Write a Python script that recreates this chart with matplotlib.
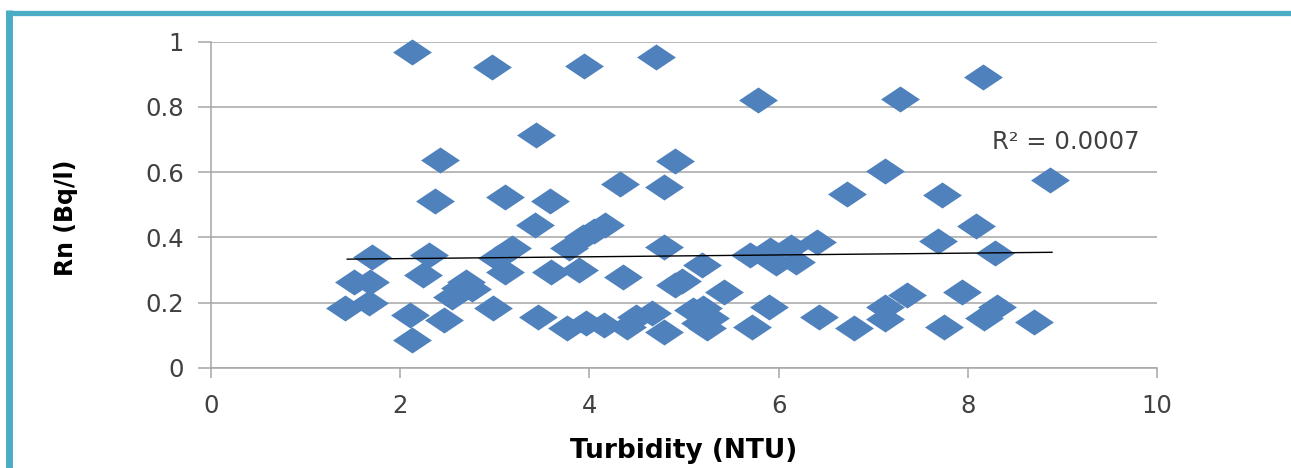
import matplotlib
matplotlib.use("Agg")
import matplotlib.pyplot as plt
from matplotlib.lines import Line2D
from matplotlib.path import Path

# turbidity (NTU) vs radon (Bq/l)
turbidity = [
    2.12, 2.97, 3.94, 4.70, 5.78, 7.28, 8.16, 3.44, 2.42, 4.91,
    2.37, 3.11, 3.58, 4.32, 4.79, 6.72, 7.12, 7.73, 8.87, 8.09,
    7.68, 8.29, 1.70, 2.30, 2.24, 1.51, 1.68, 1.42, 1.67, 2.10,
    2.12, 2.46, 2.55, 2.63, 2.70, 2.76, 2.98, 3.11, 3.02, 3.18,
    3.43, 3.46, 3.59, 3.78, 3.93, 4.05, 4.17, 3.89, 4.35, 4.79,
    4.91, 4.98, 5.19, 3.76, 3.96, 4.15, 4.40, 4.49, 4.66, 4.79,
    5.10, 5.17, 5.42, 5.20, 5.28, 5.24, 5.70, 5.91, 5.97, 6.13,
    6.18, 6.41, 5.90, 5.72, 6.43, 6.80, 7.12, 7.13, 7.36, 7.94,
    7.75, 8.17, 8.31, 8.70,
]
radon = [
    0.968, 0.922, 0.925, 0.953, 0.822, 0.825, 0.891, 0.714, 0.637, 0.633,
    0.511, 0.525, 0.511, 0.563, 0.555, 0.534, 0.602, 0.529, 0.577, 0.436,
    0.390, 0.353, 0.341, 0.346, 0.284, 0.264, 0.264, 0.182, 0.198, 0.162,
    0.085, 0.146, 0.218, 0.245, 0.262, 0.240, 0.184, 0.293, 0.336, 0.366,
    0.438, 0.156, 0.295, 0.366, 0.400, 0.418, 0.438, 0.300, 0.279, 0.371,
    0.254, 0.265, 0.315, 0.121, 0.136, 0.131, 0.126, 0.156, 0.167, 0.110,
    0.177, 0.136, 0.233, 0.182, 0.152, 0.121, 0.346, 0.361, 0.320, 0.371,
    0.325, 0.387, 0.187, 0.126, 0.156, 0.121, 0.150, 0.187, 0.223, 0.233,
    0.126, 0.151, 0.187, 0.141,
]
trend_x = [1.44, 8.89]
trend_y = [0.333, 0.354]
r2_label = "R² = 0.0007"

BLUE = "#4F81BD"
TEAL = "#4BACC6"
GRID = "#A6A6A6"
TXT = "#404040"

fig = plt.figure(figsize=(12.91, 4.68), dpi=100)
fig.patch.set_facecolor("white")
ax = fig.add_axes([211 / 1291, 1 - 367.7 / 468, 946 / 1291, 326 / 468])

# wide flat diamond like the excel marker
diamond = Path([(-1, 0), (0, 0.67), (1, 0), (0, -0.67), (-1, 0)],
               [Path.MOVETO, Path.LINETO, Path.LINETO, Path.LINETO, Path.CLOSEPOLY])
ax.plot(turbidity, radon, linestyle="none", marker=diamond, ms=28,
        color=BLUE, mec="none", zorder=3, clip_on=False)
ax.plot(trend_x, trend_y, color="black", lw=1.0, zorder=4)
ax.text(8.26, 0.692, r2_label, fontsize=17.5, color=TXT, va="center", ha="left")

ax.set_xlim(0, 10)
ax.set_ylim(0, 1)
ax.set_xticks(range(0, 11, 2))
ax.set_yticks([0, 0.2, 0.4, 0.6, 0.8, 1])
ax.set_yticklabels(["0", "0.2", "0.4", "0.6", "0.8", "1"])
ax.grid(True, axis="y", color=GRID, lw=1.1)
ax.set_axisbelow(True)
for s in ["top", "right"]:
    ax.spines[s].set_visible(False)
for s in ["left", "bottom"]:
    ax.spines[s].set_color(GRID)
    ax.spines[s].set_linewidth(1.1)
ax.tick_params(axis="y", length=9.5, width=1.1, color=GRID, pad=10, labelsize=17.5, labelcolor=TXT)
ax.tick_params(axis="x", length=7, width=1.1, color=GRID, pad=12, labelsize=17.5, labelcolor=TXT)

ax.set_xlabel("Turbidity (NTU)", fontsize=19, fontweight="bold", color="black", labelpad=14)
ax.set_ylabel("Rn (Bq/l)", fontsize=17, fontweight="bold", color="black")
ax.yaxis.set_label_coords(-0.141, 0.461)

# teal frame on top and left
fig.add_artist(Line2D([9 / 1291, 1.01], [1 - 12.7 / 468] * 2, color=TEAL, lw=3.8,
                      transform=fig.transFigure, solid_capstyle="butt"))
fig.add_artist(Line2D([9 / 1291] * 2, [-0.01, 1 - 10.3 / 468], color=TEAL, lw=5,
                      transform=fig.transFigure, solid_capstyle="butt"))

fig.savefig("out.png", dpi=100, facecolor="white")
